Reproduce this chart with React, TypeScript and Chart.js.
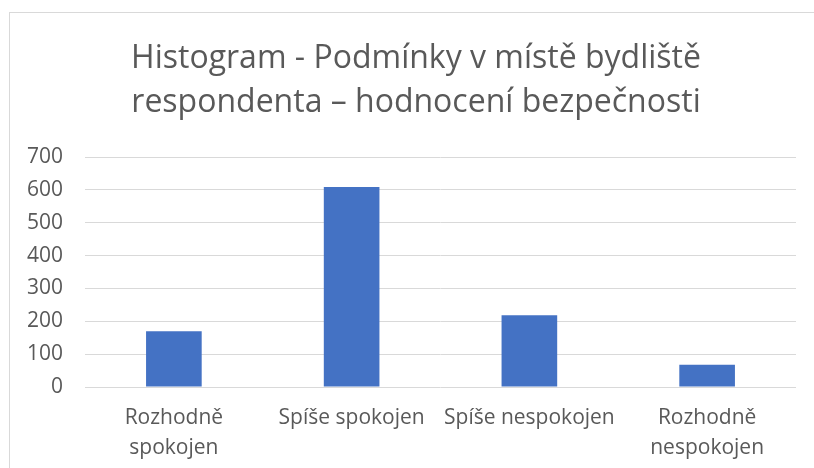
import React, { useEffect, useRef } from "react";
import { Chart, registerables } from "chart.js";

Chart.register(...registerables);

const categories: (string | string[])[] = [
  ["Rozhodně", "spokojen"],
  "Spíše spokojen",
  "Spíše nespokojen",
  ["Rozhodně", "nespokojen"],
];
const counts: number[] = [170, 609, 218, 68];
const titleLines: string[] = [
  "Histogram - Podmínky v místě bydliště",
  "respondenta – hodnocení bezpečnosti",
];
const yMin = 0;
const yMax = 700;
const yStep = 100;

const FONT = "'Open Sans', 'Noto Sans', sans-serif";

export default function App() {
  const ref = useRef<HTMLCanvasElement | null>(null);

  useEffect(() => {
    if (!ref.current) return;
    const chart = new Chart(ref.current, {
      type: "bar",
      data: {
        labels: categories,
        datasets: [
          {
            data: counts,
            backgroundColor: "#4472C4",
            borderWidth: 0,
            barPercentage: 0.313,
            categoryPercentage: 1,
          },
        ],
      },
      options: {
        responsive: false,
        animation: false,
        devicePixelRatio: 1,
        layout: { padding: { left: 9, right: 0, top: 0, bottom: 0 } },
        plugins: {
          legend: { display: false },
          tooltip: { enabled: false },
          title: {
            display: true,
            text: titleLines,
            color: "#595959",
            font: { family: FONT, size: 32, weight: "400", lineHeight: 44 / 32 },
            padding: { top: 37, bottom: 32 },
          },
        },
        scales: {
          x: {
            grid: { display: false, drawTicks: false },
            border: { display: false },
            ticks: {
              color: "#595959",
              font: { family: FONT, size: 21, lineHeight: 30 / 21 },
              padding: 16,
              maxRotation: 0,
              autoSkip: false,
            },
            afterFit: (s: any) => {
              s.height = 468 - 387;
            },
          },
          y: {
            min: yMin,
            max: yMax,
            grid: { color: "#d9d9d9", lineWidth: 1, drawTicks: false },
            border: { display: false },
            ticks: {
              stepSize: yStep,
              color: "#595959",
              font: { family: FONT, size: 21 },
              padding: 22,
            },
            afterFit: (s: any) => {
              s.width = 76;
            },
          },
          y2: {
            position: "right",
            display: true,
            grid: { display: false, drawTicks: false },
            border: { display: false },
            ticks: { display: false },
            afterFit: (s: any) => {
              s.width = 27;
            },
          },
        },
      },
    });
    return () => chart.destroy();
  }, []);

  return (
    <div
      style={{
        position: "fixed",
        left: 0,
        top: 0,
        width: 814,
        height: 468,
        overflow: "hidden",
        background: "#fff",
      }}
    >
      <div
        style={{
          position: "absolute",
          left: 9,
          top: 12,
          width: 900,
          height: 600,
          border: "1px solid #d9d9d9",
        }}
      />
      <canvas
        ref={ref}
        width={823}
        height={468}
        style={{ position: "absolute", left: 0, top: 0, width: 823, height: 468 }}
      />
    </div>
  );
}
